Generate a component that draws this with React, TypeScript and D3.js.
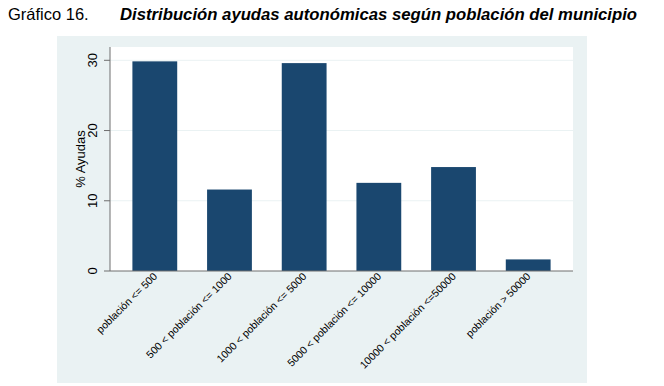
import React from 'react';
import * as d3 from 'd3';

// Categories and values
const categories: string[] = [
  'población <= 500',
  '500 < población <= 1000',
  '1000 < población <= 5000',
  '5000 < población <= 10000',
  '10000 < población <=50000',
  'población > 50000',
];
const values: number[] = [29.85, 11.6, 29.6, 12.55, 14.8, 1.65];
const yTicks: number[] = [0, 10, 20, 30];

const W = 664;
const H = 386;
const panel = { x: 57, y: 36, w: 530, h: 347 };
const plot = { left: 110, right: 573, top: 47, bottom: 271 };
const navy = '#1a476f';
const font = 'Liberation Sans, Arial, sans-serif';

const App: React.FC = () => {
  const x = d3
    .scaleBand<string>()
    .domain(categories)
    .range([plot.left, plot.right])
    .paddingInner(0.4)
    .paddingOuter(0.3);
  const y = d3.scaleLinear().domain([0, 30]).range([plot.bottom, 60.3]);

  return (
    <svg
      width={W}
      height={H}
      style={{ position: 'absolute', left: 0, top: 0, display: 'block', background: '#fff' }}
    >
      <text x={8} y={20} fontFamily={font} fontSize={16.5} fill="#000">
        Gráfico 16.
      </text>
      <text x={120} y={20} fontFamily={font} fontSize={16.5} fontWeight="bold" fontStyle="italic" fill="#000"
        textLength={517} lengthAdjust="spacingAndGlyphs">
        Distribución ayudas autonómicas según población del municipio
      </text>

      {/* outer panel */}
      <rect x={panel.x} y={panel.y} width={panel.w} height={panel.h} fill="#eaf2f3" />
      {/* plot region */}
      <rect x={plot.left} y={plot.top} width={plot.right - plot.left} height={plot.bottom - plot.top} fill="#fff" />

      {/* gridlines */}
      {yTicks.filter((t) => t > 0).map((t) => (
        <line key={t} x1={plot.left} x2={plot.right} y1={y(t)} y2={y(t)} stroke="#eaf2f3" strokeWidth={1} />
      ))}

      {/* bars */}
      {categories.map((c, i) => (
        <rect
          key={c}
          x={x(c)}
          y={y(values[i])}
          width={x.bandwidth()}
          height={plot.bottom - y(values[i])}
          fill={navy}
        />
      ))}

      {/* axes */}
      <line x1={plot.left} x2={plot.left} y1={plot.top} y2={plot.bottom} stroke="#6e6e6e" strokeWidth={1} />
      <line x1={plot.left} x2={plot.right} y1={plot.bottom} y2={plot.bottom} stroke="#6e6e6e" strokeWidth={1} />

      {yTicks.map((t) => (
        <g key={t}>
          <line x1={plot.left - 6} x2={plot.left} y1={y(t)} y2={y(t)} stroke="#6e6e6e" strokeWidth={1} />
          <text
            transform={`translate(${plot.left - 13},${y(t)}) rotate(-90)`}
            textAnchor="middle"
            fontFamily={font}
            fontSize={13}
            fill="#000"
          >
            {t}
          </text>
        </g>
      ))}

      <text
        transform={`translate(85,${(plot.top + plot.bottom) / 2}) rotate(-90)`}
        textAnchor="middle"
        fontFamily={font}
        fontSize={13}
        fill="#000"
      >
        % Ayudas
      </text>

      {categories.map((c) => {
        const cx = (x(c) ?? 0) + x.bandwidth() / 2;
        return (
          <text
            key={c}
            transform={`translate(${cx + 3},${plot.bottom + 6}) rotate(-45)`}
            textAnchor="end"
            fontFamily={font}
            fontSize={10.5}
            fill="#000"
          >
            {c}
          </text>
        );
      })}
    </svg>
  );
};

export default App;
